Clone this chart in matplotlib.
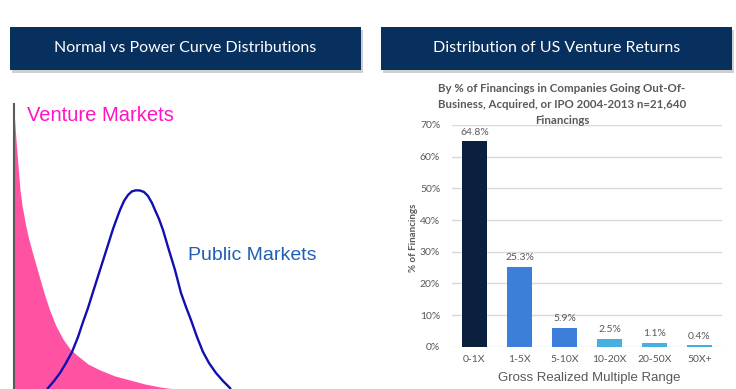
import matplotlib
matplotlib.use("Agg")
import matplotlib.pyplot as plt
from matplotlib.patches import Rectangle

# ---------------- data ----------------
# Left panel: conceptual curves (x from axis, y above baseline)
venture_x = [0, 0.5, 2, 4, 6, 8, 11, 14, 18, 22, 26, 31, 36, 42, 49, 56, 64, 74, 86, 101, 116, 131, 146, 161]
venture_y = [272, 271, 249, 224, 199, 184, 167, 153, 138, 124, 110, 93, 78, 63, 50, 40, 33, 25, 19, 13, 9, 5, 2, 0]

public_x = [32, 34, 40, 46, 52, 58, 64, 69, 74, 79, 86, 93, 99, 103, 106, 110, 114, 118, 122,
            126, 130, 134, 138, 141, 145, 149, 154, 161, 167, 172, 177, 183, 189, 195, 202, 209, 216, 218]
public_y = [-3, 1, 8, 16, 26, 37, 52, 67, 81, 97, 119, 141, 160, 171, 179, 188, 194, 197.7, 198.7,
            198.5, 197, 193, 186, 179, 170, 159, 142, 119, 96, 82, 69, 52, 37, 26, 16, 8, 1, -3]

# Right panel: bar chart
categories = ["0-1X", "1-5X", "5-10X", "10-20X", "20-50X", "50X+"]
values = [64.8, 25.3, 5.9, 2.5, 1.1, 0.4]
value_labels = ["64.8%", "25.3%", "5.9%", "2.5%", "1.1%", "0.4%"]
bar_colors = ["#0b1f3e", "#3b7fdb", "#3b7fdb", "#45b0df", "#45b0df", "#45b0df"]
yticks = [0, 10, 20, 30, 40, 50, 60, 70]
ytick_labels = ["0%", "10%", "20%", "30%", "40%", "50%", "60%", "70%"]

W, H = 736, 389
fig = plt.figure(figsize=(W / 100, H / 100), dpi=100)
fig.patch.set_facecolor("white")


def fx(px):
    return px / W


def fy(py):
    return 1 - py / H


# ---------------- title boxes ----------------
navy = "#07305f"
for (x0, x1, title) in [(10, 361, "Normal vs Power Curve Distributions"),
                        (381, 732, "Distribution of US Venture Returns")]:
    fig.patches.append(Rectangle((fx(x0 + 1.5), fy(72.5)), fx(x1 - x0), 43 / H,
                                 transform=fig.transFigure, facecolor="#b0b0b0",
                                 edgecolor="none", alpha=0.6, zorder=1))
    fig.patches.append(Rectangle((fx(x0), fy(70)), fx(x1 - x0), 43 / H,
                                 transform=fig.transFigure, facecolor=navy,
                                 edgecolor="none", zorder=2))
    fig.text(fx((x0 + x1) / 2), fy(48.5), title, color="white", fontsize=11.5,
             family="Lato", ha="center", va="center", zorder=3)

# ---------------- left panel ----------------
axl = fig.add_axes([0, 0, fx(370), fy(0) - fy(389)])
axl.set_xlim(-14, 356)
axl.set_ylim(0, 389)
axl.axis("off")
axl.fill_between(venture_x, venture_y, -10, color="#ff52a2", linewidth=0, zorder=1)
axl.plot(public_x, public_y, color="#1010b0", linewidth=1.7, zorder=2,
         solid_joinstyle="round", antialiased=True)
axl.plot([0, 0], [-5, 285], color="#5a5a5a", linewidth=1.5, zorder=3)
axl.text(13, 274, "Venture Markets", color="#ff14c4", fontsize=14.5,
         family="Liberation Sans", ha="left", va="center")
axl.text(174, 134, "Public Markets", color="#1f5fb4", fontsize=14,
         family="Liberation Sans", ha="left", va="center")

# ---------------- right panel ----------------
grey = "#595959"
axb = fig.add_axes([fx(452), fy(346.7), fx(722 - 452), (346.7 - 125) / H])
xpos = list(range(len(categories)))
axb.bar(xpos, values, width=0.57, color=bar_colors, zorder=3)
axb.set_xlim(-0.5, len(categories) - 0.5)
axb.set_ylim(0, 70)
axb.set_yticks(yticks)
axb.set_yticklabels(ytick_labels)
axb.set_xticks(xpos)
axb.set_xticklabels(categories)
axb.grid(axis="y", color="#d9d9d9", linewidth=1, zorder=0)
for s in axb.spines.values():
    s.set_visible(False)
axb.tick_params(length=0, labelsize=7.5, labelcolor=grey)
axb.tick_params(axis="x", pad=6)
axb.tick_params(axis="y", pad=8.5)
for lab in axb.get_xticklabels() + axb.get_yticklabels():
    lab.set_family("Lato")
for xi, v, t in zip(xpos, values, value_labels):
    axb.annotate(t, (xi, v), xytext=(0, 3.5), textcoords="offset points",
                 ha="center", va="bottom", fontsize=7.5, color=grey, family="Lato")

fig.text(fx(589), fy(378), "Gross Realized Multiple Range", color=grey,
         fontsize=9.5, family="Liberation Sans", ha="center", va="center")
fig.text(fx(414), fy(238), "% of Financings", color=grey, fontsize=7,
         family="Lato", fontweight="bold", rotation=90, ha="center", va="center")

title_lines = ["By % of Financings in Companies Going Out-Of-",
               "Business, Acquired, or IPO 2004-2013 n=21,640",
               "Financings"]
for i, line in enumerate(title_lines):
    fig.text(fx(562), fy(88 + 16.3 * i), line, color=grey, fontsize=8.3,
             family="Lato", fontweight="bold", ha="center", va="center", zorder=5)

fig.savefig("out.png", dpi=100, facecolor="white")
